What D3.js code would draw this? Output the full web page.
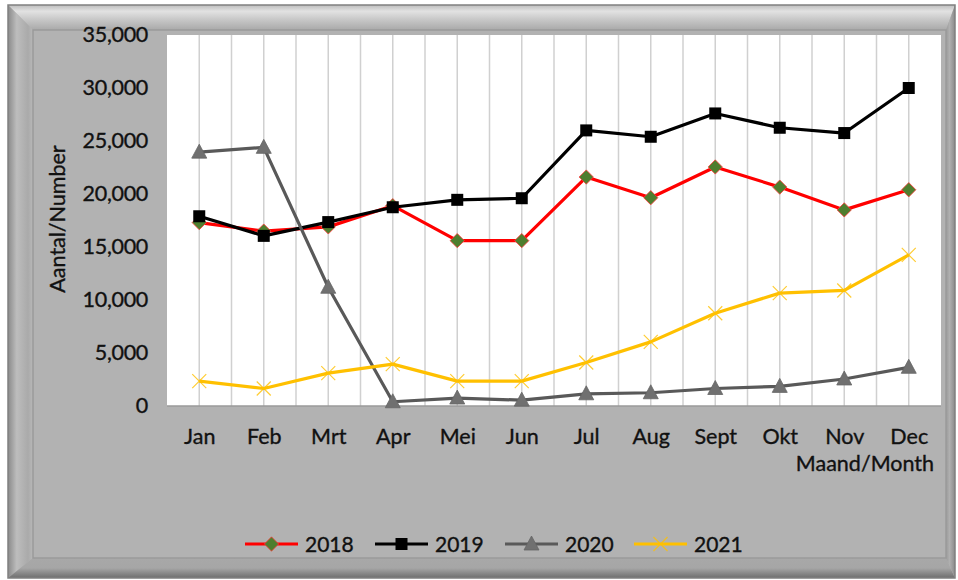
<!DOCTYPE html>
<html>
<head>
<meta charset="utf-8">
<script src="https://cdn.jsdelivr.net/npm/d3@7"></script>
<style>
  body { margin: 0; background: #fff; }
  svg text { font-family: Lato, "Open Sans", sans-serif; fill: #111; stroke: #111; stroke-width: 0.35px; }
</style>
</head>
<body>
<script>
const months = ["Jan", "Feb", "Mrt", "Apr", "Mei", "Jun", "Jul", "Aug", "Sept", "Okt", "Nov", "Dec"];
const values2018 = [17300, 16500, 16900, 18900, 15600, 15600, 21600, 19650, 22550, 20650, 18500, 20400];
const values2019 = [17900, 16050, 17350, 18750, 19450, 19600, 26000, 25400, 27600, 26250, 25750, 30000];
const values2020 = [23950, 24400, 11200, 400, 750, 550, 1150, 1250, 1650, 1850, 2550, 3650];
const values2021 = [2350, 1650, 3100, 3950, 2350, 2350, 4100, 6050, 8750, 10650, 10900, 14250];
const yTicks = [0, 5000, 10000, 15000, 20000, 25000, 30000, 35000];

const series = [
    { name: "2018", values: values2018, line: "#ff0000", marker: "diamond" },
    { name: "2019", values: values2019, line: "#000000", marker: "square" },
    { name: "2020", values: values2020, line: "#595959", marker: "triangle" },
    { name: "2021", values: values2021, line: "#ffc000", marker: "cross" }
];

const width = 958;
const height = 580;
const plot = { left: 167, right: 941, top: 35, bottom: 406 };

const svg = d3.select("body")
    .append("svg")
    .attr("width", width)
    .attr("height", height);

const defs = svg.append("defs");
function grad(id, x1, y1, x2, y2, stops) {
    const g = defs.append("linearGradient").attr("id", id)
        .attr("x1", x1).attr("y1", y1).attr("x2", x2).attr("y2", y2);
    stops.forEach(s => g.append("stop").attr("offset", s[0]).attr("stop-color", s[1]));
}
grad("bevTop", 0, 0, 0, 1, [[0, "#bdbdbd"], [0.25, "#e2e2e2"], [0.6, "#c6c6c6"], [1, "#a9a9a9"]]);
grad("bevLeft", 0, 0, 1, 0, [[0, "#8a8a8a"], [0.35, "#bdbdbd"], [0.8, "#aaaaaa"], [1, "#b8b8b8"]]);
grad("bevBottom", 0, 0, 0, 1, [[0, "#a8a8a8"], [0.5, "#a6a6a6"], [1, "#6e6e6e"]]);
grad("bevRight", 0, 0, 1, 0, [[0, "#9a9a9a"], [0.4, "#b0b0b0"], [1, "#8a8a8a"]]);

// beveled frame
const o = { l: 8, t: 5, r: 955, b: 578 };
const i = { l: 33, t: 30, r: 946, b: 558 };
svg.append("rect").attr("x", o.l).attr("y", o.t).attr("width", o.r - o.l).attr("height", o.b - o.t)
    .attr("fill", "#b0b0b0");
svg.append("polygon").attr("fill", "url(#bevTop)")
    .attr("points", [[o.l, o.t], [o.r, o.t], [i.r, i.t], [i.l, i.t]].join(" "));
svg.append("polygon").attr("fill", "url(#bevLeft)")
    .attr("points", [[o.l, o.t], [i.l, i.t], [i.l, i.b], [o.l, o.b]].join(" "));
svg.append("polygon").attr("fill", "url(#bevBottom)")
    .attr("points", [[o.l, o.b], [i.l, i.b], [i.r, i.b], [o.r, o.b]].join(" "));
svg.append("polygon").attr("fill", "url(#bevRight)")
    .attr("points", [[o.r, o.t], [o.r, o.b], [i.r, i.b], [i.r, i.t]].join(" "));
svg.append("rect").attr("x", o.l).attr("y", o.t).attr("width", o.r - o.l).attr("height", o.b - o.t)
    .attr("fill", "none").attr("stroke", "#808080").attr("stroke-width", 1.5);
svg.append("rect").attr("x", i.l).attr("y", i.t).attr("width", i.r - i.l).attr("height", i.b - i.t)
    .attr("fill", "#b2b2b2").attr("stroke", "#9a9a9a").attr("stroke-width", 1.5);

// plot area
svg.append("rect").attr("x", plot.left).attr("y", plot.top)
    .attr("width", plot.right - plot.left).attr("height", plot.bottom - plot.top)
    .attr("fill", "#ffffff");

const x = d3.scalePoint()
    .domain(months)
    .range([plot.left, plot.right])
    .padding(0.5);
const step = x.step();

const y = d3.scaleLinear()
    .domain([0, 35000])
    .range([plot.bottom, plot.top]);

// vertical gridlines at category centres and boundaries
const gridX = [];
months.forEach((m, k) => {
    gridX.push(x(m));
    if (k > 0) gridX.push(x(m) - step / 2);
});
svg.append("g")
    .selectAll("line")
    .data(gridX)
    .enter().append("line")
    .attr("x1", d => d).attr("x2", d => d)
    .attr("y1", plot.top).attr("y2", plot.bottom)
    .attr("stroke", "#d0d0d0")
    .attr("stroke-width", 1.5);

svg.append("line")
    .attr("x1", plot.left).attr("x2", plot.right)
    .attr("y1", plot.bottom).attr("y2", plot.bottom)
    .attr("stroke", "#9a9a9a").attr("stroke-width", 1.5);

// y axis labels
const yAxis = svg.append("g")
    .attr("transform", `translate(${plot.left - 19},0)`)
    .call(d3.axisLeft(y).tickValues(yTicks).tickFormat(d3.format(",")).tickSize(0).tickPadding(0));
yAxis.select(".domain").remove();
yAxis.selectAll("text")
    .attr("font-size", 21.5)
    .attr("font-family", "Lato")
    .attr("fill", "#111")
    .attr("letter-spacing", -0.3);

// x axis labels
const xAxis = svg.append("g")
    .attr("transform", `translate(0,${plot.bottom})`)
    .call(d3.axisBottom(x).tickSize(0).tickPadding(23));
xAxis.select(".domain").remove();
xAxis.selectAll("text")
    .attr("font-size", 21.5)
    .attr("font-family", "Lato")
    .attr("fill", "#111");

// axis titles
svg.append("text")
    .attr("x", 934).attr("y", 471)
    .attr("text-anchor", "end")
    .attr("font-size", 21.5)
    .text("Maand/Month");

svg.append("text")
    .attr("transform", "translate(65,219) rotate(-90)")
    .attr("text-anchor", "middle")
    .attr("font-size", 21.5)
    .text("Aantal/Number");

// markers
function drawMarker(g, type, cx, cy) {
    if (type === "diamond") {
        g.append("path")
            .attr("d", d3.symbol(d3.symbolDiamond2, 130)())
            .attr("transform", `translate(${cx},${cy})`)
            .attr("fill", "#4e7e2e").attr("stroke", "#ff3b3b").attr("stroke-width", 0.8);
    } else if (type === "square") {
        g.append("rect")
            .attr("x", cx - 6).attr("y", cy - 6).attr("width", 12).attr("height", 12)
            .attr("fill", "#000");
    } else if (type === "triangle") {
        g.append("path")
            .attr("d", `M${cx},${cy - 8}L${cx + 7.5},${cy + 6}L${cx - 7.5},${cy + 6}Z`)
            .attr("fill", "#707070").attr("stroke", "#666").attr("stroke-width", 0.8);
    } else {
        g.append("path")
            .attr("d", `M${cx - 7},${cy - 7}L${cx + 7},${cy + 7}M${cx - 7},${cy + 7}L${cx + 7},${cy - 7}`)
            .attr("stroke", "#ffc000").attr("stroke-width", 1.2).attr("fill", "none")
            .attr("opacity", 0.8);
    }
}

const line = d3.line()
    .x((d, k) => x(months[k]))
    .y(d => y(d));

series.forEach(s => {
    const g = svg.append("g");
    g.append("path")
        .datum(s.values)
        .attr("d", line)
        .attr("fill", "none")
        .attr("stroke", s.line)
        .attr("stroke-width", 3.2)
        .attr("stroke-linejoin", "round");
    s.values.forEach((v, k) => drawMarker(g, s.marker, x(months[k]), y(v)));
});

// legend
const legendX = [245, 375, 505, 634];
series.forEach((s, k) => {
    const g = svg.append("g").attr("transform", `translate(${legendX[k]},544)`);
    g.append("line")
        .attr("x1", 0).attr("x2", 53).attr("y1", 0).attr("y2", 0)
        .attr("stroke", s.line).attr("stroke-width", 3.2);
    drawMarker(g, s.marker, 26.5, 0);
    g.append("text")
        .attr("x", 60).attr("y", 7.5)
        .attr("font-size", 21)
        .text(s.name);
});
</script>
</body>
</html>
